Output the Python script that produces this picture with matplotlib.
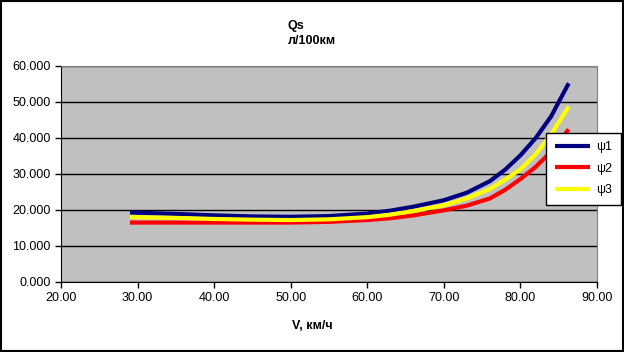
import matplotlib
matplotlib.use("Agg")
import matplotlib.pyplot as plt
from matplotlib.patches import Rectangle

# speed, km/h
v = [29.0, 35.0, 40.0, 45.0, 50.0, 55.0, 60.0, 63.0, 66.0, 70.0, 73.0, 76.0, 78.0, 80.0, 82.0, 84.0, 86.3]
# fuel consumption, l/100km
psi1 = [19.3, 18.9, 18.5, 18.2, 18.1, 18.3, 19.0, 19.8, 20.9, 22.7, 24.8, 28.0, 31.2, 35.2, 40.0, 46.0, 55.2]
psi2 = [16.5, 16.5, 16.5, 16.5, 16.5, 16.7, 17.2, 17.7, 18.5, 19.9, 21.2, 23.2, 25.6, 28.6, 32.0, 36.2, 42.4]
psi3 = [18.0, 17.8, 17.5, 17.3, 17.2, 17.4, 18.0, 18.7, 19.7, 21.3, 23.2, 25.8, 28.4, 31.3, 35.5, 41.0, 48.7]

names = ["ψ1", "ψ2", "ψ3"]
colors = ["#000080", "#FF0000", "#FFFF00"]

xticks = [20, 30, 40, 50, 60, 70, 80, 90]
yticks = [0, 10, 20, 30, 40, 50, 60]

plt.rcParams["font.family"] = ["Liberation Sans", "DejaVu Sans"]

fig = plt.figure(figsize=(6.24, 3.52), dpi=100)
fig.patch.set_facecolor("white")
fig.patches.append(Rectangle((0.001, 0.002), 0.997, 0.996, transform=fig.transFigure,
                             fill=False, edgecolor="black", linewidth=1.5))

ax = fig.add_axes([0.0978, 0.199, 0.859, 0.6135])
ax.set_facecolor("#C0C0C0")

for ys, name, c in zip([psi1, psi2, psi3], names, colors):
    ax.plot(v, ys, color=c, linewidth=3.0, label=name, solid_capstyle="butt")

ax.set_xlim(20, 90)
ax.set_ylim(0, 60)
ax.set_xticks(xticks)
ax.set_yticks(yticks)
ax.set_xticklabels([f"{t:.2f}" for t in xticks])
ax.set_yticklabels([f"{t:.3f}" for t in yticks])
ax.tick_params(direction="out", length=4, width=1, labelsize=9, colors="black")
ax.yaxis.grid(True, color="black", linewidth=1)
ax.set_axisbelow(True)
for side in ["top", "right"]:
    ax.spines[side].set_color("#808080")
for side in ["left", "bottom"]:
    ax.spines[side].set_color("black")

fig.text(0.4615, 0.905, "Qs\nл/100км", ha="left", va="center", fontsize=9,
         fontweight="bold", linespacing=1.3, multialignment="left")
fig.text(0.5, 0.075, "V, км/ч", ha="center", va="center", fontsize=9, fontweight="bold")

leg = fig.legend(loc="upper left", bbox_to_anchor=(0.875, 0.623), fontsize=9,
                 frameon=True, fancybox=False, handlelength=2.8, handletextpad=0.5,
                 labelspacing=0.75, borderpad=0.7, borderaxespad=0)
leg.get_frame().set_edgecolor("black")
leg.get_frame().set_linewidth(1)
leg.get_frame().set_alpha(1)

fig.savefig("out.png", dpi=100)
